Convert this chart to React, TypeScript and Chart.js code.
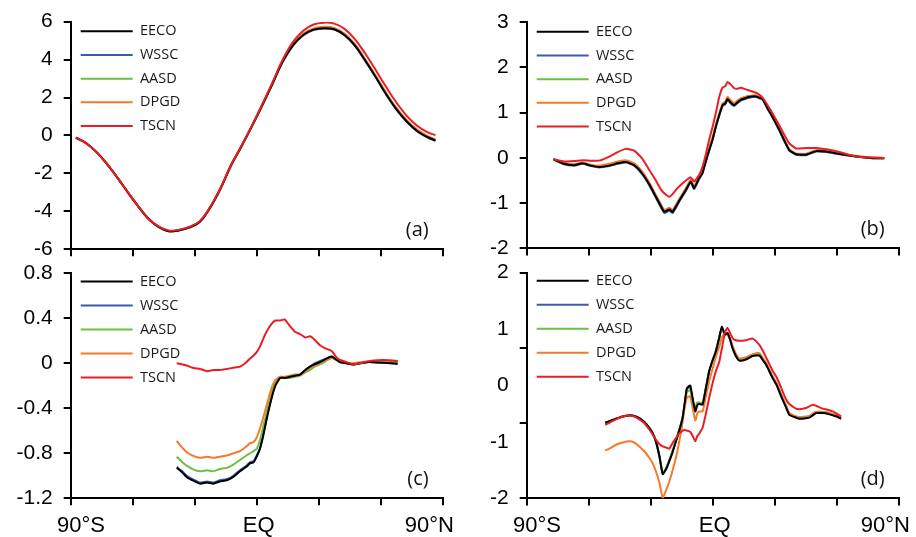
import React, { useEffect, useRef } from "react";
import { Chart, registerables } from "chart.js";

Chart.register(...registerables);

// ---------- series meta ----------
const SERIES_NAMES = ["EECO", "WSSC", "AASD", "DPGD", "TSCN"];
const SERIES_COLORS = ["#000000", "#3b5cab", "#6bbf45", "#f47b2b", "#ec1c24"];
const SERIES_DRAW_ORDER = [1, 4, 3, 2, 0]; // lower = drawn on top

// ---------- x axis ----------
const X_MARK_TICKS = [-90, -60, -30, 0, 30, 60, 90];
const X_LABEL_POS = [-85, 1, 83.5];
const X_LABELS = ["90°S", "EQ", "90°N"];

// ---------- panel (a) ----------
const A_LAT = [-87.5, -82.5, -77.5, -72.5, -67.5, -62.5, -57.5, -52.5, -47.5, -42.5, -37.5, -32.5, -27.5, -22.5, -17.5, -12.5, -7.5, -2.5, 2.5, 7.5, 12.5, 17.5, 22.5, 27.5, 32.5, 37.5, 42.5, 47.5, 52.5, 57.5, 62.5, 67.5, 72.5, 77.5, 82.5, 86.5];
const A_EECO = [-0.12, -0.41, -0.88, -1.5, -2.21, -2.98, -3.71, -4.38, -4.82, -5.05, -5.0, -4.85, -4.55, -3.8, -2.8, -1.6, -0.6, 0.45, 1.55, 2.7, 3.88, 4.75, 5.3, 5.58, 5.66, 5.6, 5.3, 4.75, 3.95, 3.1, 2.2, 1.4, 0.75, 0.25, -0.08, -0.27];
const A_WSSC = [-0.12, -0.41, -0.88, -1.5, -2.21, -2.98, -3.71, -4.38, -4.83, -5.06, -5.01, -4.86, -4.56, -3.81, -2.81, -1.61, -0.61, 0.44, 1.54, 2.69, 3.86, 4.73, 5.28, 5.56, 5.64, 5.58, 5.28, 4.73, 3.93, 3.08, 2.18, 1.38, 0.73, 0.23, -0.1, -0.29];
const A_AASD = [-0.12, -0.41, -0.88, -1.5, -2.21, -2.98, -3.71, -4.38, -4.82, -5.04, -4.99, -4.84, -4.54, -3.79, -2.79, -1.59, -0.59, 0.46, 1.56, 2.72, 3.9, 4.77, 5.32, 5.6, 5.68, 5.62, 5.32, 4.77, 3.97, 3.12, 2.22, 1.42, 0.77, 0.27, -0.06, -0.25];
const A_DPGD = [-0.12, -0.41, -0.88, -1.5, -2.21, -2.98, -3.71, -4.38, -4.81, -5.03, -4.98, -4.83, -4.53, -3.78, -2.78, -1.58, -0.58, 0.47, 1.58, 2.74, 3.93, 4.81, 5.37, 5.65, 5.73, 5.67, 5.37, 4.82, 4.02, 3.17, 2.27, 1.47, 0.82, 0.32, -0.02, -0.21];
const A_TSCN = [-0.12, -0.41, -0.88, -1.5, -2.21, -2.98, -3.71, -4.38, -4.8, -5.02, -4.97, -4.82, -4.52, -3.77, -2.77, -1.57, -0.57, 0.48, 1.6, 2.76, 3.98, 4.92, 5.52, 5.85, 5.95, 5.9, 5.62, 5.08, 4.32, 3.47, 2.58, 1.75, 1.05, 0.52, 0.17, 0.02];
const A_Y_LABEL_TICKS = [-6, -4, -2, 0, 2, 4, 6];
const A_Y_LABELS = ["-6", "-4", "-2", "0", "2", "4", "6"];

// ---------- panel (b) ----------
const B_LAT = [-77, -72, -67, -63, -59, -55, -50, -46, -42, -38, -34, -30.5, -27.5, -25, -23.4, -21, -19.4, -17.5, -16, -13, -10.6, -9, -6.6, -5, -3.5, -1.7, 0, 1.5, 3.2, 4.8, 6, 7.2, 8.8, 10.4, 12, 13.7, 15.7, 17.7, 20.9, 22.5, 24.2, 26.5, 29, 32.2, 35, 37.1, 40.3, 45.2, 50, 54.9, 61.3, 69.4, 76, 83];
const B_EECO = [-0.03, -0.13, -0.16, -0.12, -0.17, -0.2, -0.17, -0.12, -0.09, -0.16, -0.35, -0.6, -0.86, -1.07, -1.19, -1.14, -1.19, -1.05, -0.93, -0.71, -0.52, -0.67, -0.45, -0.34, -0.1, 0.17, 0.42, 0.69, 0.95, 1.17, 1.2, 1.3, 1.22, 1.17, 1.23, 1.29, 1.32, 1.35, 1.36, 1.33, 1.3, 1.1, 0.9, 0.62, 0.35, 0.17, 0.08, 0.07, 0.15, 0.14, 0.09, 0.03, 0.0, -0.01];
const B_WSSC = [-0.03, -0.14, -0.17, -0.13, -0.18, -0.21, -0.18, -0.13, -0.1, -0.17, -0.37, -0.62, -0.88, -1.1, -1.22, -1.17, -1.22, -1.08, -0.95, -0.73, -0.54, -0.69, -0.47, -0.35, -0.11, 0.16, 0.41, 0.68, 0.94, 1.15, 1.18, 1.28, 1.2, 1.15, 1.21, 1.27, 1.3, 1.33, 1.35, 1.32, 1.29, 1.09, 0.89, 0.61, 0.34, 0.16, 0.07, 0.06, 0.14, 0.13, 0.08, 0.03, 0.0, -0.01];
const B_AASD = [-0.03, -0.12, -0.15, -0.11, -0.16, -0.19, -0.15, -0.1, -0.07, -0.14, -0.33, -0.58, -0.84, -1.05, -1.17, -1.12, -1.17, -1.03, -0.91, -0.69, -0.5, -0.65, -0.43, -0.32, -0.08, 0.19, 0.44, 0.71, 0.97, 1.19, 1.22, 1.32, 1.25, 1.2, 1.26, 1.31, 1.35, 1.37, 1.38, 1.35, 1.31, 1.11, 0.91, 0.63, 0.36, 0.18, 0.09, 0.08, 0.16, 0.15, 0.1, 0.04, 0.01, -0.01];
const B_DPGD = [-0.03, -0.11, -0.14, -0.1, -0.15, -0.17, -0.13, -0.08, -0.05, -0.12, -0.31, -0.56, -0.82, -1.03, -1.15, -1.1, -1.15, -1.01, -0.89, -0.67, -0.48, -0.62, -0.41, -0.3, -0.06, 0.21, 0.46, 0.73, 0.99, 1.21, 1.24, 1.35, 1.27, 1.21, 1.27, 1.32, 1.35, 1.37, 1.38, 1.35, 1.31, 1.12, 0.92, 0.64, 0.37, 0.19, 0.1, 0.09, 0.17, 0.16, 0.1, 0.04, 0.01, 0.0];
const B_TSCN = [-0.03, -0.08, -0.07, -0.05, -0.06, -0.06, 0.03, 0.13, 0.2, 0.16, -0.02, -0.28, -0.5, -0.7, -0.78, -0.86, -0.8, -0.69, -0.62, -0.5, -0.43, -0.52, -0.38, -0.2, 0.05, 0.4, 0.7, 0.99, 1.35, 1.56, 1.58, 1.68, 1.62, 1.54, 1.53, 1.55, 1.52, 1.49, 1.44, 1.4, 1.33, 1.17, 0.98, 0.72, 0.48, 0.32, 0.21, 0.22, 0.22, 0.19, 0.13, 0.03, 0.01, 0.0];
const B_Y_LABEL_TICKS = [-2, -1, 0, 1, 2, 3];
const B_Y_LABELS = ["-2", "-1", "0", "1", "2", "3"];

// ---------- panel (c) ----------
const C_LAT = [-38.7, -36, -33.9, -31, -27.4, -24, -21, -17.8, -14.5, -11.3, -8.1, -5, -3.3, -1.5, 0, 1.6, 3.2, 5, 7.2, 9, 11.3, 13.5, 16.1, 18.5, 21, 23.5, 25.8, 28, 30.6, 33.5, 36.3, 38.7, 40.3, 43.5, 46.7, 50, 53.2, 56.5, 61.3, 65, 68.2];
const C_EECO = [-0.93, -0.97, -1.01, -1.04, -1.07, -1.06, -1.07, -1.05, -1.04, -1.01, -0.96, -0.92, -0.89, -0.88, -0.83, -0.76, -0.64, -0.48, -0.31, -0.2, -0.13, -0.13, -0.12, -0.11, -0.1, -0.06, -0.03, -0.01, 0.01, 0.04, 0.06, 0.03, 0.01, 0.0, -0.01, 0.0, 0.01, 0.01, 0.005, 0.0, -0.005];
const C_WSSC = [-0.92, -0.96, -1.0, -1.03, -1.06, -1.05, -1.06, -1.04, -1.03, -1.0, -0.95, -0.91, -0.88, -0.87, -0.82, -0.75, -0.63, -0.47, -0.3, -0.19, -0.13, -0.13, -0.12, -0.11, -0.1, -0.06, -0.03, 0.0, 0.02, 0.04, 0.06, 0.03, 0.01, 0.0, -0.01, 0.0, 0.01, 0.01, 0.005, 0.0, -0.005];
const C_AASD = [-0.83, -0.88, -0.91, -0.94, -0.96, -0.95, -0.96, -0.94, -0.93, -0.9, -0.86, -0.82, -0.8, -0.78, -0.76, -0.68, -0.56, -0.42, -0.27, -0.18, -0.13, -0.13, -0.13, -0.12, -0.11, -0.08, -0.06, -0.03, -0.01, 0.02, 0.05, 0.03, 0.01, 0.0, -0.01, 0.0, 0.01, 0.015, 0.01, 0.01, 0.01];
const C_DPGD = [-0.69, -0.75, -0.79, -0.82, -0.84, -0.83, -0.84, -0.83, -0.82, -0.8, -0.78, -0.74, -0.71, -0.7, -0.66, -0.58, -0.48, -0.36, -0.22, -0.15, -0.12, -0.12, -0.11, -0.1, -0.1, -0.07, -0.04, -0.02, 0.0, 0.03, 0.05, 0.03, 0.015, 0.005, 0.0, 0.01, 0.015, 0.02, 0.025, 0.025, 0.02];
const C_TSCN = [0.0, -0.01, -0.02, -0.04, -0.05, -0.07, -0.06, -0.06, -0.05, -0.04, -0.03, 0.01, 0.04, 0.07, 0.1, 0.15, 0.22, 0.29, 0.35, 0.38, 0.38, 0.39, 0.33, 0.28, 0.26, 0.23, 0.24, 0.21, 0.16, 0.13, 0.11, 0.05, 0.03, 0.01, -0.01, 0.0, 0.015, 0.025, 0.03, 0.025, 0.02];
const C_Y_LABEL_TICKS = [-1.2, -0.8, -0.4, 0, 0.4, 0.8];
const C_Y_LABELS = ["-1.2", "-0.8", "-0.4", "0", "0.4", "0.8"];

// ---------- panel (d) ----------
const D_LAT = [-52, -49, -46.8, -43.5, -40.4, -38, -35.5, -33, -30.7, -29, -27.5, -25.8, -24.2, -22.5, -21, -19.4, -17.8, -16.2, -14.6, -13.5, -12.5, -10.9, -9.6, -8.4, -7.5, -6.5, -4.9, -3.3, -1.7, 0, 1.5, 3.2, 4.4, 6, 7.2, 8.5, 9.6, 11.2, 12.9, 16.1, 19.3, 22.6, 24.2, 25.8, 29, 31, 33.1, 35.4, 37.1, 40.3, 41.9, 45.2, 46.8, 48.4, 50, 53.2, 55.5, 58.1, 60, 62.1];
const D_EECO = [-0.66, -0.62, -0.59, -0.55, -0.53, -0.54, -0.58, -0.65, -0.75, -0.85, -0.99, -1.25, -1.57, -1.48, -1.34, -1.18, -0.99, -0.8, -0.58, -0.3, -0.05, 0.0, -0.25, -0.46, -0.35, -0.33, -0.34, -0.05, 0.25, 0.45, 0.6, 0.85, 1.04, 0.9, 0.93, 0.8, 0.66, 0.52, 0.44, 0.46, 0.52, 0.53, 0.45, 0.37, 0.13, 0.0, -0.19, -0.38, -0.52, -0.57, -0.59, -0.58, -0.57, -0.53, -0.49, -0.49, -0.5, -0.53, -0.55, -0.59];
const D_WSSC = [-0.66, -0.62, -0.59, -0.55, -0.53, -0.54, -0.58, -0.65, -0.75, -0.85, -0.99, -1.25, -1.56, -1.47, -1.33, -1.17, -0.98, -0.8, -0.58, -0.31, -0.07, -0.02, -0.27, -0.44, -0.34, -0.32, -0.33, -0.05, 0.25, 0.45, 0.6, 0.85, 1.02, 0.89, 0.92, 0.8, 0.67, 0.53, 0.45, 0.47, 0.53, 0.54, 0.46, 0.38, 0.14, 0.01, -0.18, -0.37, -0.51, -0.56, -0.58, -0.57, -0.56, -0.52, -0.48, -0.48, -0.49, -0.52, -0.54, -0.58];
const D_AASD = [-0.66, -0.62, -0.59, -0.55, -0.53, -0.54, -0.58, -0.65, -0.75, -0.85, -0.99, -1.24, -1.55, -1.46, -1.32, -1.16, -0.97, -0.78, -0.57, -0.33, -0.12, -0.08, -0.3, -0.38, -0.3, -0.3, -0.31, -0.04, 0.25, 0.45, 0.61, 0.86, 1.0, 0.9, 0.92, 0.81, 0.69, 0.55, 0.47, 0.49, 0.55, 0.57, 0.49, 0.4, 0.16, 0.03, -0.16, -0.35, -0.49, -0.55, -0.56, -0.55, -0.54, -0.5, -0.47, -0.47, -0.48, -0.51, -0.53, -0.57];
const D_DPGD = [-1.15, -1.1, -1.05, -1.01, -0.99, -1.01, -1.08, -1.17, -1.28, -1.38, -1.52, -1.72, -1.99, -1.85, -1.7, -1.5, -1.28, -1.0, -0.65, -0.38, -0.22, -0.19, -0.42, -0.62, -0.5, -0.46, -0.46, -0.2, 0.08, 0.3, 0.5, 0.69, 0.85, 0.93, 0.9, 0.82, 0.7, 0.56, 0.48, 0.5, 0.55, 0.56, 0.48, 0.39, 0.16, 0.03, -0.16, -0.35, -0.49, -0.55, -0.57, -0.56, -0.55, -0.5, -0.47, -0.47, -0.48, -0.51, -0.53, -0.57];
const D_TSCN = [-0.7, -0.64, -0.6, -0.55, -0.53, -0.55, -0.6, -0.67, -0.78, -0.87, -0.96, -1.04, -1.08, -1.1, -1.12, -1.02, -0.93, -0.85, -0.8, -0.79, -0.8, -0.82, -0.9, -0.99, -0.9, -0.85, -0.75, -0.5, -0.22, 0.05, 0.25, 0.42, 0.65, 0.95, 1.02, 0.92, 0.84, 0.8, 0.79, 0.8, 0.83, 0.72, 0.62, 0.5, 0.26, 0.14, -0.04, -0.24, -0.33, -0.41, -0.42, -0.4, -0.37, -0.34, -0.36, -0.41, -0.43, -0.46, -0.5, -0.55];
const D_Y_LABEL_TICKS = [-2, -1, 0, 1, 2];
const D_Y_LABELS = ["-2", "-1", "0", "1", "2"];
const D_Y_MARK_TICKS = [-2, -0.6667, 0.6667, 2];

// ---------- layout ----------
const CANVAS_W = 916;
const CANVAS_H = 537;
const Y_AXIS_W = 60;
const X_AXIS_H = 40;

type Area = { l: number; t: number; r: number; b: number };
type PanelDef = {
  tag: string;
  lats: number[];
  values: number[][];
  yMin: number;
  yMax: number;
  yLabelTicks: number[];
  yLabels: string[];
  yMarkTicks: number[];
  showX: boolean;
  area: Area;
  tension: number;
  legendDy: number;
  legendSpacing: number;
};

const PANELS: PanelDef[] = [
  { tag: "(a)", lats: A_LAT, values: [A_EECO, A_WSSC, A_AASD, A_DPGD, A_TSCN], yMin: -6, yMax: 6, yLabelTicks: A_Y_LABEL_TICKS, yLabels: A_Y_LABELS, yMarkTicks: A_Y_LABEL_TICKS, showX: false, area: { l: 70.7, t: 21.7, r: 442.7, b: 249.2 }, tension: 0.4, legendDy: -6.9, legendSpacing: 23.7 },
  { tag: "(b)", lats: B_LAT, values: [B_EECO, B_WSSC, B_AASD, B_DPGD, B_TSCN], yMin: -2, yMax: 3, yLabelTicks: B_Y_LABEL_TICKS, yLabels: B_Y_LABELS, yMarkTicks: B_Y_LABEL_TICKS, showX: false, area: { l: 526.7, t: 22.2, r: 898.7, b: 248.4 }, tension: 0.15, legendDy: -6.9, legendSpacing: 23.7 },
  { tag: "(c)", lats: C_LAT, values: [C_EECO, C_WSSC, C_AASD, C_DPGD, C_TSCN], yMin: -1.2, yMax: 0.8, yLabelTicks: C_Y_LABEL_TICKS, yLabels: C_Y_LABELS, yMarkTicks: C_Y_LABEL_TICKS, showX: true, area: { l: 70.7, t: 273.3, r: 442.7, b: 498.3 }, tension: 0.15, legendDy: -8.5, legendSpacing: 24 },
  { tag: "(d)", lats: D_LAT, values: [D_EECO, D_WSSC, D_AASD, D_DPGD, D_TSCN], yMin: -2, yMax: 2, yLabelTicks: D_Y_LABEL_TICKS, yLabels: D_Y_LABELS, yMarkTicks: D_Y_MARK_TICKS, showX: true, area: { l: 526.7, t: 272.5, r: 898.7, b: 498.4 }, tension: 0.15, legendDy: -8.5, legendSpacing: 24 },
];

const near = (a: number, b: number) => Math.abs(a - b) < 1e-3;

function Panel({ def }: { def: PanelDef }) {
  const ref = useRef<HTMLCanvasElement | null>(null);
  useEffect(() => {
    const canvas = ref.current;
    if (!canvas) return;
    const { area } = def;
    const legendFont = 14.5;
    const legendPad = def.legendSpacing - legendFont;
    const xAll = Array.from(new Set([...X_MARK_TICKS, ...X_LABEL_POS])).sort((a, b) => a - b);
    const yAll = Array.from(new Set([...def.yLabelTicks, ...def.yMarkTicks])).sort((a, b) => a - b);

    const positionPlugin = {
      id: "posPlugin",
      afterLayout(chart: any) {
        const lg = chart.legend;
        if (lg) {
          lg.left = area.l + 10 - legendPad;
          lg.top = area.t + def.legendDy;
          lg.right = area.r;
          lg.bottom = area.b;
          lg.width = lg.right - lg.left;
          lg.height = lg.bottom - lg.top;
        }
      },
      afterDraw(chart: any) {
        const ctx = chart.ctx;
        const ca = chart.chartArea;
        ctx.save();
        ctx.font = '20px "Open Sans", sans-serif';
        ctx.fillStyle = "#111";
        ctx.textAlign = "right";
        ctx.textBaseline = "middle";
        ctx.fillText(def.tag, ca.right - 14, ca.bottom - 19);
        ctx.restore();
      },
    };

    const chart = new Chart(canvas, {
      type: "line",
      data: {
        datasets: SERIES_NAMES.map((name, si) => ({
          label: name,
          data: def.lats.map((lat, i) => ({ x: lat, y: def.values[si][i] })),
          borderColor: SERIES_COLORS[si],
          backgroundColor: SERIES_COLORS[si],
          borderWidth: 2,
          pointRadius: 0,
          tension: def.tension,
          fill: false,
          order: SERIES_DRAW_ORDER[si],
        })),
      },
      options: {
        responsive: false,
        animation: false,
        events: [],
        layout: {
          padding: {
            left: area.l - Y_AXIS_W,
            right: CANVAS_W - area.r,
            top: area.t,
            bottom: CANVAS_H - area.b - X_AXIS_H,
          },
        },
        scales: {
          x: {
            type: "linear",
            min: -90,
            max: 90,
            afterBuildTicks: (s: any) => {
              s.ticks = xAll.map((v) => ({ value: v }));
            },
            afterFit: (s: any) => {
              s.height = X_AXIS_H;
              s.paddingLeft = 0;
              s.paddingRight = 0;
            },
            ticks: {
              autoSkip: false,
              maxRotation: 0,
              minRotation: 0,
              padding: 7,
              color: "#000",
              font: { family: '"Liberation Sans", Arial, sans-serif', size: 22 },
              callback: (v: any) => {
                const i = X_LABEL_POS.findIndex((p) => near(p, Number(v)));
                return def.showX && i >= 0 ? X_LABELS[i] : "";
              },
            },
            grid: {
              display: true,
              drawOnChartArea: false,
              drawTicks: true,
              tickLength: 7,
              lineWidth: 2,
              color: (c: any) =>
                c.tick && X_MARK_TICKS.some((m) => near(m, c.tick.value)) ? "#000" : "rgba(0,0,0,0)",
            },
            border: { display: true, color: "#000", width: 2 },
          },
          y: {
            type: "linear",
            min: def.yMin,
            max: def.yMax,
            afterBuildTicks: (s: any) => {
              s.ticks = yAll.map((v) => ({ value: v }));
            },
            afterFit: (s: any) => {
              s.width = Y_AXIS_W;
              s.paddingTop = 0;
              s.paddingBottom = 0;
            },
            ticks: {
              autoSkip: false,
              padding: 11,
              color: "#000",
              font: { family: '"Liberation Sans", Arial, sans-serif', size: 21 },
              callback: (v: any) => {
                const i = def.yLabelTicks.findIndex((p) => near(p, Number(v)));
                return i >= 0 ? def.yLabels[i] : "";
              },
            },
            grid: {
              display: true,
              drawOnChartArea: false,
              drawTicks: true,
              tickLength: 7,
              lineWidth: 2,
              color: (c: any) =>
                c.tick && def.yMarkTicks.some((m) => near(m, c.tick.value)) ? "#000" : "rgba(0,0,0,0)",
            },
            border: { display: true, color: "#000", width: 2 },
          },
        },
        plugins: {
          legend: {
            display: true,
            position: "chartArea",
            align: "start",
            labels: {
              boxWidth: 52,
              boxHeight: 0,
              padding: legendPad,
              color: "#1a1a1a",
              font: { family: '"Open Sans", sans-serif', size: legendFont },
              sort: (a: any, b: any) => a.datasetIndex - b.datasetIndex,
            },
          },
          tooltip: { enabled: false },
        },
      } as any,
      plugins: [positionPlugin],
    });
    return () => chart.destroy();
  }, [def]);

  return (
    <canvas
      ref={ref}
      width={CANVAS_W}
      height={CANVAS_H}
      style={{ position: "absolute", left: 0, top: 0, width: CANVAS_W, height: CANVAS_H }}
    />
  );
}

export default function App() {
  return (
    <div
      style={{
        position: "fixed",
        left: 0,
        top: 0,
        width: CANVAS_W,
        height: CANVAS_H,
        background: "#ffffff",
        overflow: "hidden",
      }}
    >
      {PANELS.map((p) => (
        <Panel key={p.tag} def={p} />
      ))}
    </div>
  );
}
